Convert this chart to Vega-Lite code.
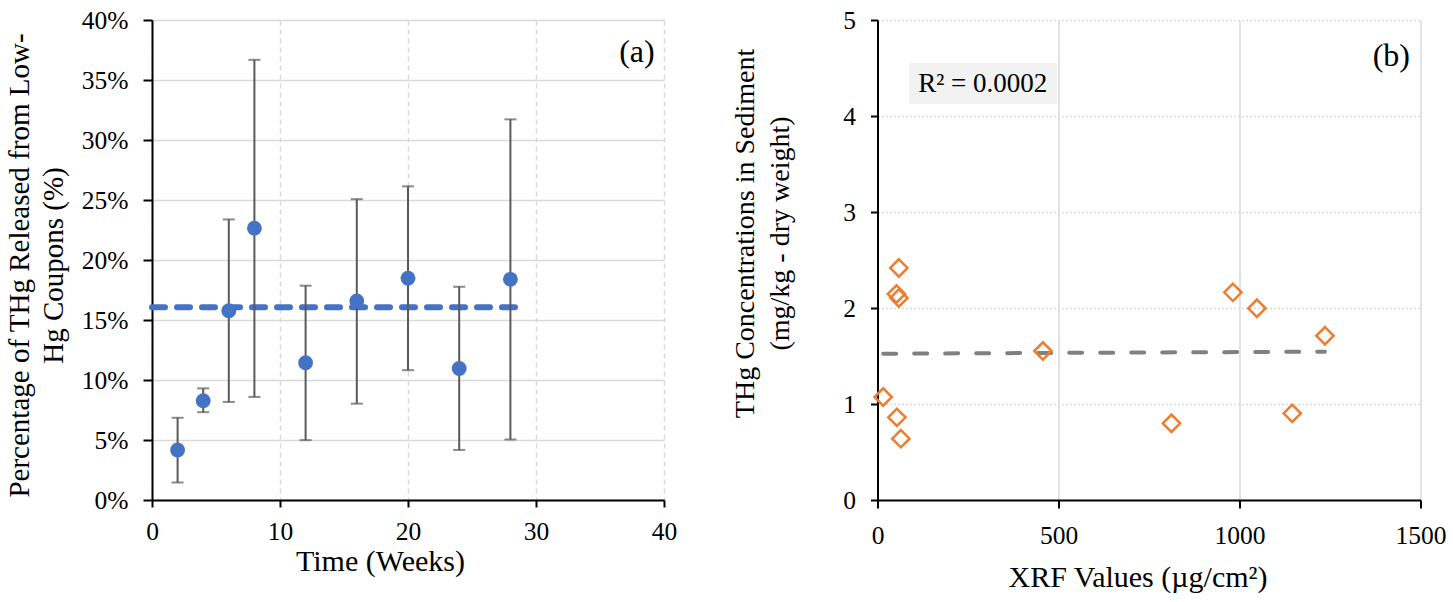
{
  "$schema": "https://vega.github.io/schema/vega-lite/v6.json",
  "background": "white",
  "padding": {"left": 4, "top": 8, "right": 5, "bottom": 5},
  "spacing": 53.5,
  "config": {
    "view": {"stroke": null},
    "font": "Liberation Serif",
    "axis": {
      "domainColor": "#000000",
      "domainWidth": 2,
      "tickColor": "#000000",
      "tickWidth": 2,
      "labelColor": "#000000",
      "titleColor": "#000000",
      "labelFont": "Liberation Serif",
      "titleFont": "Liberation Serif",
      "labelFontSize": 25.5,
      "titleFontWeight": "normal",
      "gridColor": "#d9d9d9",
      "gridWidth": 1.5,
      "labelFlush": false,
      "labelPadding": 15
    }
  },
  "datasets": {
    "release": [
      {"t": 2, "pct": 0.0417, "lo": 0.0146, "hi": 0.0685},
      {"t": 4, "pct": 0.0828, "lo": 0.0732, "hi": 0.0930},
      {"t": 6, "pct": 0.1577, "lo": 0.0817, "hi": 0.2338},
      {"t": 8, "pct": 0.2265, "lo": 0.0859, "hi": 0.3668},
      {"t": 12, "pct": 0.1144, "lo": 0.0499, "hi": 0.1786},
      {"t": 16, "pct": 0.1659, "lo": 0.0803, "hi": 0.2507},
      {"t": 20, "pct": 0.1848, "lo": 0.1082, "hi": 0.2614},
      {"t": 24, "pct": 0.1096, "lo": 0.0417, "hi": 0.1777},
      {"t": 28, "pct": 0.1839, "lo": 0.0504, "hi": 0.3172}
    ],
    "mean_line": [
      {"t": 0, "pct": 0.1606},
      {"t": 29.26, "pct": 0.1606}
    ],
    "sediment": [
      {"xrf": 59, "thg": 2.417},
      {"xrf": 52.5, "thg": 2.146},
      {"xrf": 59, "thg": 2.104},
      {"xrf": 15.7, "thg": 1.073},
      {"xrf": 53.6, "thg": 0.861},
      {"xrf": 64.6, "thg": 0.639},
      {"xrf": 457, "thg": 1.552},
      {"xrf": 812, "thg": 0.799},
      {"xrf": 981.7, "thg": 2.163},
      {"xrf": 1048, "thg": 1.997},
      {"xrf": 1145.6, "thg": 0.903},
      {"xrf": 1236, "thg": 1.711}
    ],
    "trend": [
      {"xrf": 15.7, "thg": 1.524},
      {"xrf": 1236, "thg": 1.545}
    ],
    "one": [{}]
  },
  "hconcat": [
    {
      "width": 512,
      "height": 480,
      "layer": [
        {
          "data": {"name": "mean_line"},
          "mark": {"type": "line", "color": "#4472C4", "strokeWidth": 6, "strokeDash": [13, 12], "strokeCap": "round"},
          "encoding": {
            "x": {
              "field": "t", "type": "quantitative",
              "title": "Time (Weeks)",
              "scale": {"domain": [0, 40], "nice": false},
              "axis": {
                "values": [0, 10, 20, 30, 40],
                "tickSize": 7,
                "labelPadding": 12,
                "grid": true,
                "gridDash": [5, 4],
                "titleFontSize": 30,
                "titleX": 228,
                "titleY": 70,
                "titleAlign": "center",
                "titleBaseline": "alphabetic"
              }
            },
            "y": {
              "field": "pct", "type": "quantitative",
              "title": ["Percentage of THg Released from Low-", "Hg Coupons (%)"],
              "scale": {"domain": [0, 0.4], "nice": false},
              "axis": {
                "values": [0, 0.05, 0.1, 0.15, 0.2, 0.25, 0.3, 0.35, 0.4],
                "format": ".0%",
                "tickSize": 9,
                "grid": true,
                "titleFontSize": 29,
                "titleLineHeight": 34,
                "titleAngle": -90,
                "titleX": -133,
                "titleY": 245,
                "titleAlign": "center",
                "titleBaseline": "middle"
              }
            }
          }
        },
        {
          "data": {"name": "release"},
          "mark": {"type": "errorbar", "color": "#595959", "thickness": 2, "ticks": {"size": 12, "thickness": 2, "color": "#595959"}},
          "encoding": {
            "x": {"field": "t", "type": "quantitative", "title": "Time (Weeks)"},
            "y": {"field": "lo", "type": "quantitative", "title": ["Percentage of THg Released from Low-", "Hg Coupons (%)"]},
            "y2": {"field": "hi"}
          }
        },
        {
          "data": {"name": "release"},
          "mark": {"type": "point", "shape": "circle", "filled": true, "size": 220, "color": "#4472C4", "opacity": 1},
          "encoding": {
            "x": {"field": "t", "type": "quantitative", "title": "Time (Weeks)"},
            "y": {"field": "pct", "type": "quantitative", "title": ["Percentage of THg Released from Low-", "Hg Coupons (%)"]}
          }
        },
        {
          "data": {"name": "one"},
          "mark": {"type": "text", "text": "(a)", "fontSize": 32, "align": "right", "baseline": "middle", "color": "#000000"},
          "encoding": {
            "x": {"datum": 39.27, "type": "quantitative", "title": "Time (Weeks)"},
            "y": {"datum": 0.373, "type": "quantitative", "title": ["Percentage of THg Released from Low-", "Hg Coupons (%)"]}
          }
        }
      ]
    },
    {
      "width": 543,
      "height": 480,
      "layer": [
        {
          "data": {"name": "trend"},
          "mark": {"type": "line", "color": "#808080", "strokeWidth": 4, "strokeDash": [13, 18], "strokeCap": "round"},
          "encoding": {
            "x": {
              "field": "xrf", "type": "quantitative",
              "title": "XRF Values (µg/cm²)",
              "scale": {"domain": [0, 1500], "nice": false},
              "axis": {
                "values": [0, 500, 1000, 1500],
                "format": "d",
                "tickSize": 8,
                "grid": true,
                "titleFontSize": 30,
                "titleX": 260,
                "titleY": 86.6,
                "titleAlign": "center",
                "titleBaseline": "alphabetic"
              }
            },
            "y": {
              "field": "thg", "type": "quantitative",
              "title": ["THg Concentrations in Sediment", "(mg/kg - dry weight)"],
              "scale": {"domain": [0, 5], "nice": false},
              "axis": {
                "values": [0, 1, 2, 3, 4, 5],
                "format": "d",
                "tickSize": 7,
                "grid": true,
                "gridDash": [2, 2],
                "titleFontSize": 28,
                "titleLineHeight": 35,
                "titleAngle": -90,
                "titleX": -132,
                "titleY": 213,
                "titleAlign": "center",
                "titleBaseline": "middle"
              }
            }
          }
        },
        {
          "data": {"name": "sediment"},
          "mark": {"type": "point", "shape": "diamond", "filled": false, "size": 300, "strokeWidth": 2.5, "color": "#ED7D31", "opacity": 1},
          "encoding": {
            "x": {"field": "xrf", "type": "quantitative", "title": "XRF Values (µg/cm²)"},
            "y": {"field": "thg", "type": "quantitative", "title": ["THg Concentrations in Sediment", "(mg/kg - dry weight)"]}
          }
        },
        {
          "data": {"name": "one"},
          "mark": {"type": "rect", "color": "#f2f2f2"},
          "encoding": {
            "x": {"datum": 87.6, "type": "quantitative", "title": "XRF Values (µg/cm²)"},
            "x2": {"datum": 496.4},
            "y": {"datum": 4.552, "type": "quantitative", "title": ["THg Concentrations in Sediment", "(mg/kg - dry weight)"]},
            "y2": {"datum": 4.125}
          }
        },
        {
          "data": {"name": "one"},
          "mark": {"type": "text", "text": "R² = 0.0002", "fontSize": 27, "align": "center", "baseline": "alphabetic", "color": "#000000"},
          "encoding": {
            "x": {"datum": 290.6, "type": "quantitative", "title": "XRF Values (µg/cm²)"},
            "y": {"datum": 4.25, "type": "quantitative", "title": ["THg Concentrations in Sediment", "(mg/kg - dry weight)"]}
          }
        },
        {
          "data": {"name": "one"},
          "mark": {"type": "text", "text": "(b)", "fontSize": 32, "align": "right", "baseline": "middle", "color": "#000000"},
          "encoding": {
            "x": {"datum": 1471, "type": "quantitative", "title": "XRF Values (µg/cm²)"},
            "y": {"datum": 4.625, "type": "quantitative", "title": ["THg Concentrations in Sediment", "(mg/kg - dry weight)"]}
          }
        }
      ]
    }
  ]
}
